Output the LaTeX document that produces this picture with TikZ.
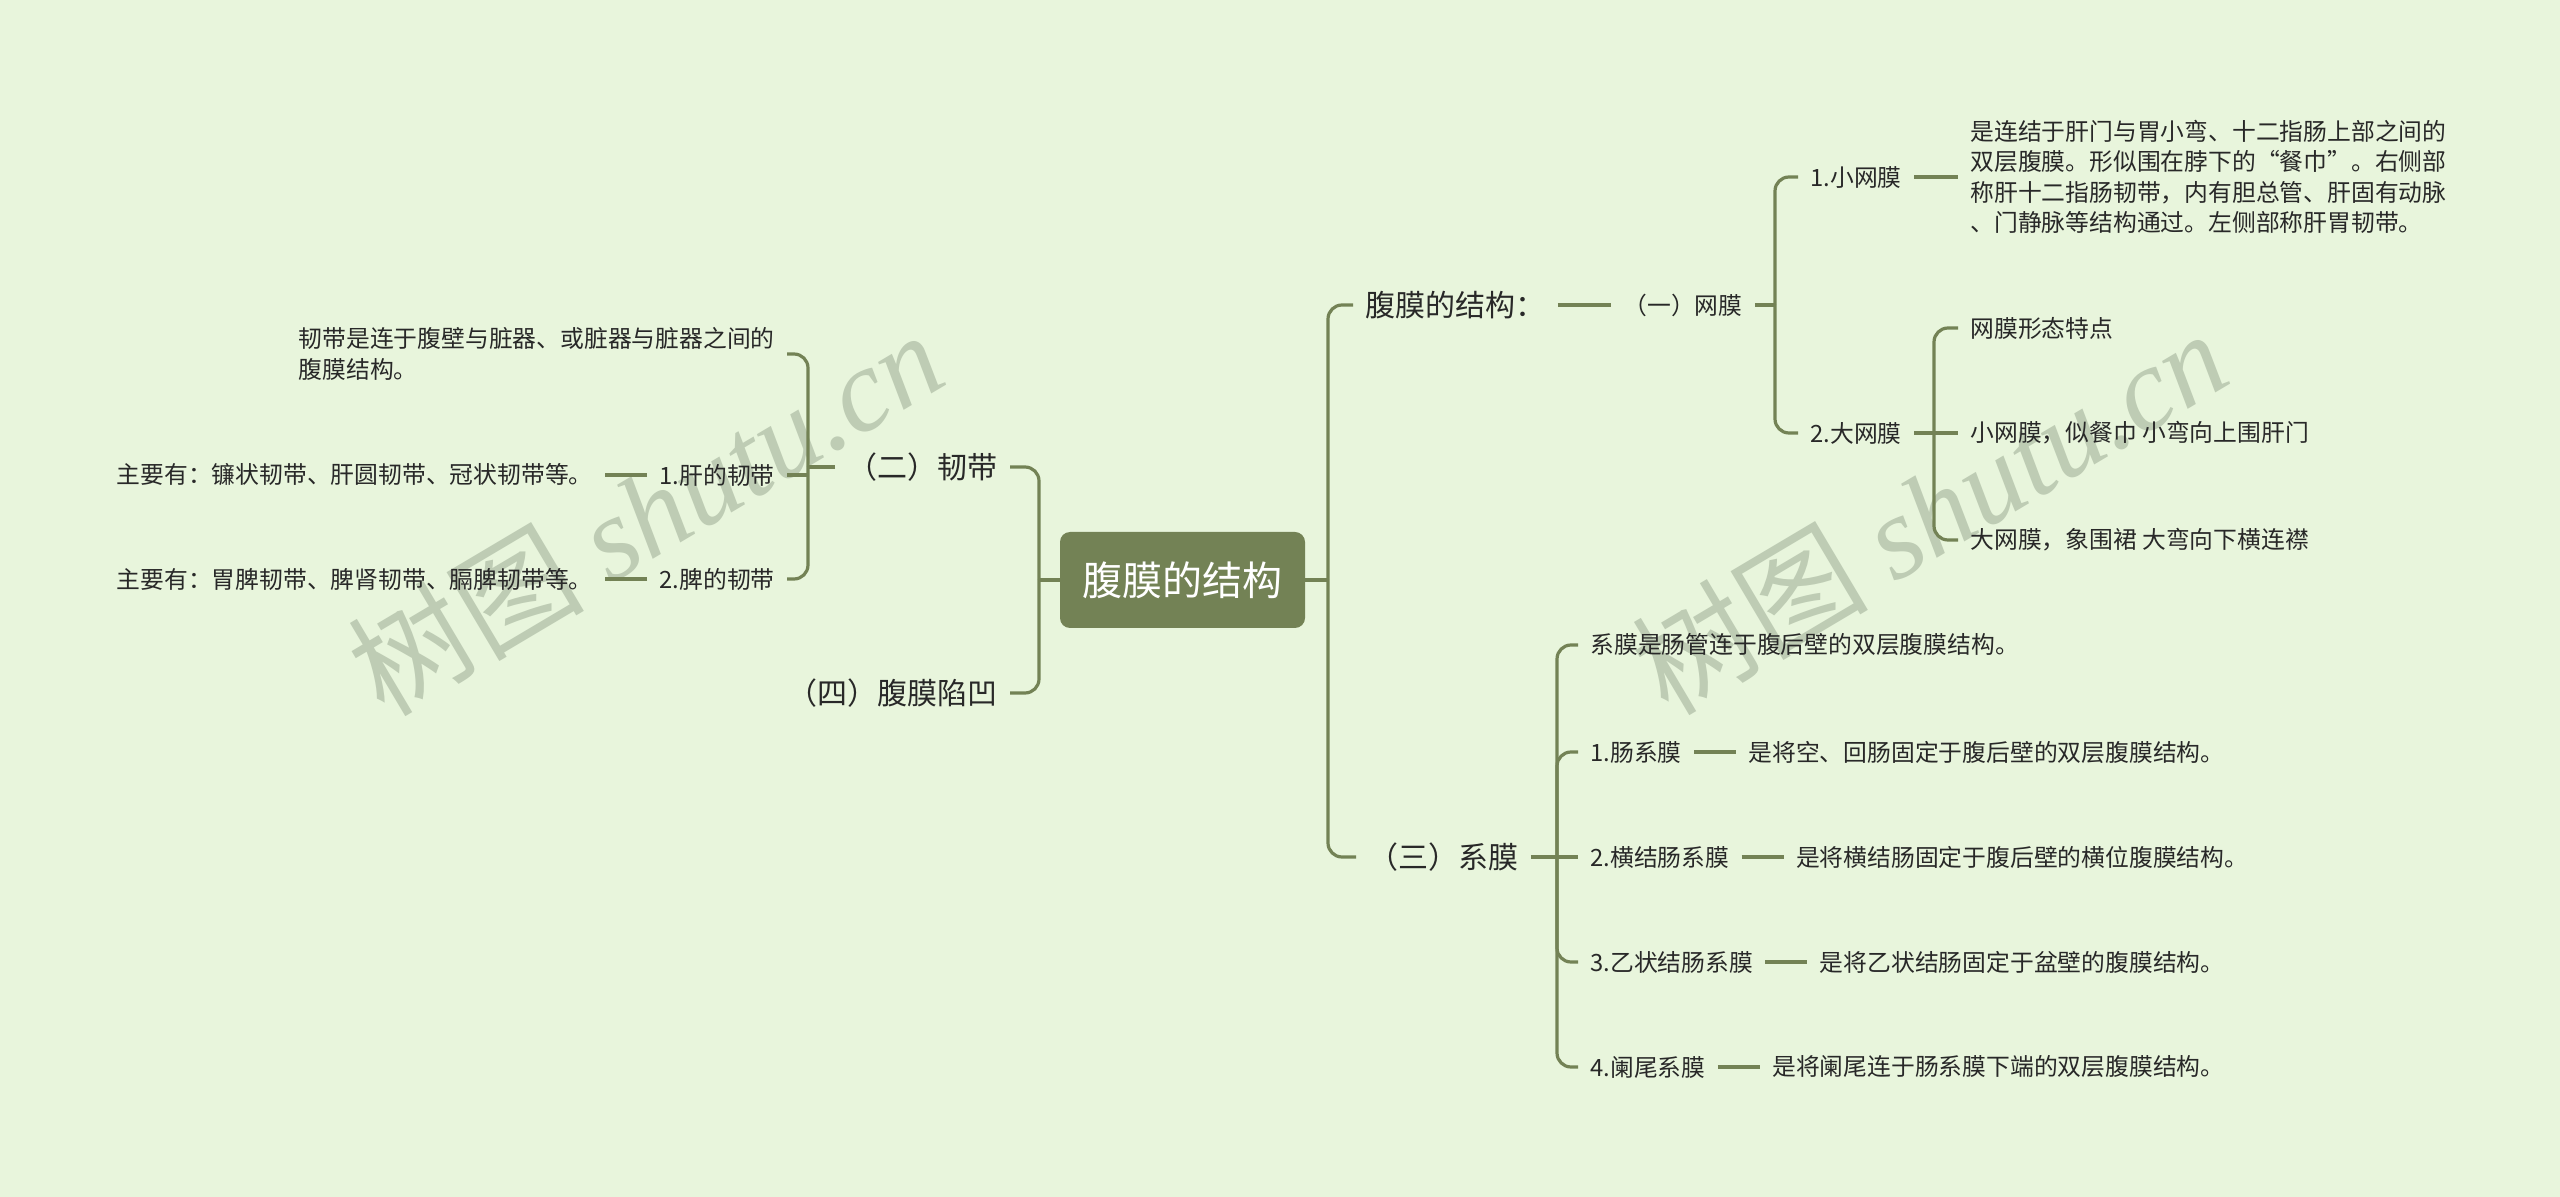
\documentclass[tikz,border=0pt]{standalone}
\usepackage{fontspec}
\newfontfamily\cjk{Noto Sans CJK SC}
\newfontfamily\wmlatin{Liberation Serif}
\usetikzlibrary{positioning}
\definecolor{bgc}{RGB}{232,245,220}
\definecolor{olive}{RGB}{115,130,85}
\definecolor{ink}{RGB}{40,40,40}
\definecolor{wmc}{RGB}{190,204,180}
\begin{document}
\begin{tikzpicture}[x=0.5pt,y=-0.5pt,
  conn/.style={draw=olive, line width=1.6pt, rounded corners=7pt},
  txt/.style={font={\cjk\fontsize{11.9pt}{15.25pt}\selectfont}, text=ink, inner xsep=6pt, inner ysep=2pt, align=left},
  big/.style={font={\cjk\fontsize{15pt}{18pt}\selectfont}, text=ink, inner xsep=6pt, inner ysep=2pt},
  rootbox/.style={fill=olive, text=white, rounded corners=5pt, minimum width=122.5pt, minimum height=48pt, inner sep=0pt, font={\cjk\fontsize{20pt}{24pt}\selectfont}},
  wmark/.style={text=wmc, font={\cjk\fontsize{59pt}{62pt}\selectfont}, inner sep=0pt}
]
\fill[bgc] (0,0) rectangle (2560,1197);
\useasboundingbox (0,0) rectangle (2560,1197);

% watermarks
\node[wmark, rotate=30.7] (wm1) at (645,512) {树图 {\wmlatin\itshape shutu.cn}};
\node[wmark, rotate=30.7] (wm2) at (1929,511) {树图 {\wmlatin\itshape shutu.cn}};

% root
\node[rootbox] (root) at (1182.5,580) {腹膜的结构};

% junctions
\coordinate (jR) at (1328,580);
\coordinate (jL) at (1039,580);
\coordinate (j1) at (1775,305);
\coordinate (j2) at (1934,433);
\coordinate (j3) at (1557,857);
\coordinate (jL2) at (808,467);

% right side
\node[big, anchor=west] (r1) at (1353,305) {腹膜的结构：};
\node[txt, anchor=west] (r1a) at (1611,305) {（一）网膜};
\node[txt, anchor=west] (r1a1) at (1798,177) {1.小网膜};
\node[txt, right=22pt of r1a1] (r1a1t) {是连结于肝门与胃小弯、十二指肠上部之间的\\双层腹膜。形似围在脖下的“餐巾”。右侧部\\称肝十二指肠韧带，内有胆总管、肝固有动脉\\、门静脉等结构通过。左侧部称肝胃韧带。};
\node[txt, anchor=west] (r1a2) at (1798,433) {2.大网膜};
\node[txt, anchor=west] (r1a2a) at (1958,328) {网膜形态特点};
\node[txt, anchor=west] (r1a2b) at (1958,433) {小网膜，似餐巾 小弯向上围肝门};
\node[txt, anchor=west] (r1a2c) at (1958,540) {大网膜，象围裙 大弯向下横连襟};

\node[big, anchor=west] (r3) at (1356,857) {（三）系膜};
\node[txt, anchor=west] (r3a) at (1578,645) {系膜是肠管连于腹后壁的双层腹膜结构。};
\node[txt, anchor=west] (r3b) at (1578,752) {1.肠系膜};
\node[txt, right=21pt of r3b] (r3bt) {是将空、回肠固定于腹后壁的双层腹膜结构。};
\node[txt, anchor=west] (r3c) at (1578,857) {2.横结肠系膜};
\node[txt, right=21pt of r3c] (r3ct) {是将横结肠固定于腹后壁的横位腹膜结构。};
\node[txt, anchor=west] (r3d) at (1578,962) {3.乙状结肠系膜};
\node[txt, right=21pt of r3d] (r3dt) {是将乙状结肠固定于盆壁的腹膜结构。};
\node[txt, anchor=west] (r3e) at (1578,1067) {4.阑尾系膜};
\node[txt, right=21pt of r3e] (r3et) {是将阑尾连于肠系膜下端的双层腹膜结构。};

% left side
\node[big, anchor=east] (l2) at (1010,467) {（二）韧带};
\node[big, anchor=east] (l4) at (1010,693) {（四）腹膜陷凹};
\node[txt, anchor=east] (l2a) at (787,354) {韧带是连于腹壁与脏器、或脏器与脏器之间的\\腹膜结构。};
\node[txt, anchor=east] (l2b) at (787,475) {1.肝的韧带};
\node[txt, left=21pt of l2b] (l2bt) {主要有：镰状韧带、肝圆韧带、冠状韧带等。};
\node[txt, anchor=east] (l2c) at (787,579) {2.脾的韧带};
\node[txt, left=21pt of l2c] (l2ct) {主要有：胃脾韧带、脾肾韧带、膈脾韧带等。};

% connectors right
\draw[conn] (root.east) -- (jR);
\draw[conn] (jR) |- (r1.west);
\draw[conn] (jR) |- (r3.west);
\draw[conn] (r1.east) -- (r1a.west);
\draw[conn] (r1a.east) -- (j1);
\draw[conn] (j1) |- (r1a1.west);
\draw[conn] (j1) |- (r1a2.west);
\draw[conn] (r1a1.east) -- (r1a1t.west);
\draw[conn] (r1a2.east) -- (j2);
\draw[conn] (j2) |- (r1a2a.west);
\draw[conn] (j2) -- (r1a2b.west);
\draw[conn] (j2) |- (r1a2c.west);
\draw[conn] (r3.east) -- (j3);
\draw[conn] (j3) |- (r3a.west);
\draw[conn] (j3) |- (r3b.west);
\draw[conn] (j3) -- (r3c.west);
\draw[conn] (j3) |- (r3d.west);
\draw[conn] (j3) |- (r3e.west);
\draw[conn] (r3b.east) -- (r3bt.west);
\draw[conn] (r3c.east) -- (r3ct.west);
\draw[conn] (r3d.east) -- (r3dt.west);
\draw[conn] (r3e.east) -- (r3et.west);

% connectors left
\draw[conn] (root.west) -- (jL);
\draw[conn] (jL) |- (l2.east);
\draw[conn] (jL) |- (l4.east);
\draw[conn] (l2.west) -- (jL2);
\draw[conn] (jL2) |- (l2a.east);
\draw[conn] (l2b.east) -- (jL2 |- l2b.east);
\draw[conn] (jL2) |- (l2c.east);
\draw[conn] (l2b.west) -- (l2bt.east);
\draw[conn] (l2c.west) -- (l2ct.east);
\end{tikzpicture}
\end{document}
